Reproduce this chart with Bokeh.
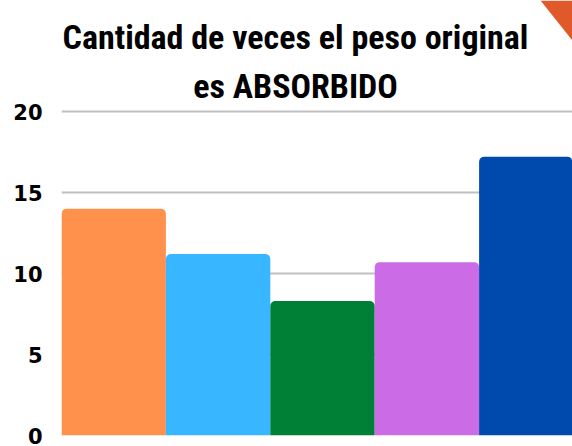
from bokeh.plotting import figure
from bokeh.models import Range1d, ColumnDataSource, FixedTicker
from bokeh.core.properties import value
from bokeh.embed import file_html
from bokeh.resources import INLINE

# Data
categories = ["Muestra 1", "Muestra 2", "Muestra 3", "Muestra 4", "Muestra 5"]
values = [14.0, 11.2, 8.3, 10.7, 17.2]
colors = ["#FF914D", "#38B6FF", "#008037", "#CB6CE6", "#004AAD"]
y_ticks = [0, 5, 10, 15, 20]

title_lines = ["Cantidad de veces el peso original", "es ABSORBIDO"]
title_font = "'Roboto Condensed', 'Liberation Sans Narrow', 'Noto Sans Condensed', 'DejaVu Sans Condensed', sans-serif"

# Layout (canvas pixels)
W, H = 572, 446
FL, FB, FT = 61, 435, 111     # frame left, y of value 0, y of value 20
BAR_PX = 104.4
PX_PER_UNIT = (FB - FT) / 20.0

def dx(px):
    return (px - FL) / BAR_PX

def dy(py):
    return (FB - py) / PX_PER_UNIT

src = ColumnDataSource(dict(
    x=[i + 0.5 for i in range(len(categories))],
    top=values,
    color=colors,
    cat=categories,
))

p = figure(width=W, height=H, output_backend="svg", toolbar_location=None,
           x_range=Range1d(0, dx(W)), y_range=Range1d(0, dy(0)),
           min_border_left=FL, min_border_right=0, min_border_bottom=H - FB,
           min_border_top=0)

p.vbar(x="x", top="top", width=1.0, bottom=0, color="color", line_color=None,
       source=src, border_radius=(5, 5, 0, 0))

p.xaxis.visible = False
p.yaxis.ticker = FixedTicker(ticks=y_ticks)
p.yaxis.axis_line_color = None
p.yaxis.major_tick_line_color = None
p.yaxis.minor_tick_line_color = None
p.yaxis.major_tick_in = 0
p.yaxis.major_tick_out = 0
p.yaxis.major_label_standoff = 19
p.yaxis.major_label_text_font = "DejaVu Sans"
p.yaxis.major_label_text_font_style = "bold"
p.yaxis.major_label_text_font_size = "21px"
p.yaxis.major_label_text_color = "#000000"

p.xgrid.visible = False
p.ygrid.ticker = FixedTicker(ticks=y_ticks)
p.ygrid.grid_line_color = "#c0c0c0"
p.ygrid.grid_line_width = 2
p.ygrid.level = "underlay"
p.outline_line_color = None

# Title (two centred lines, alphabetic baselines)
p.text(x=[dx(295), dx(295)], y=[dy(36), dy(85)], text=title_lines,
       text_font=value(title_font), text_font_style="bold",
       text_font_size="34px", text_color="#000000",
       text_align="center", text_baseline="alphabetic")

# Decorative corner triangle
p.patch(x=[dx(540), dx(W), dx(W)], y=[dy(0), dy(0), dy(40)],
        fill_color="#E0592A", line_color=None)

open("out.html", "w").write(file_html(p, INLINE))
